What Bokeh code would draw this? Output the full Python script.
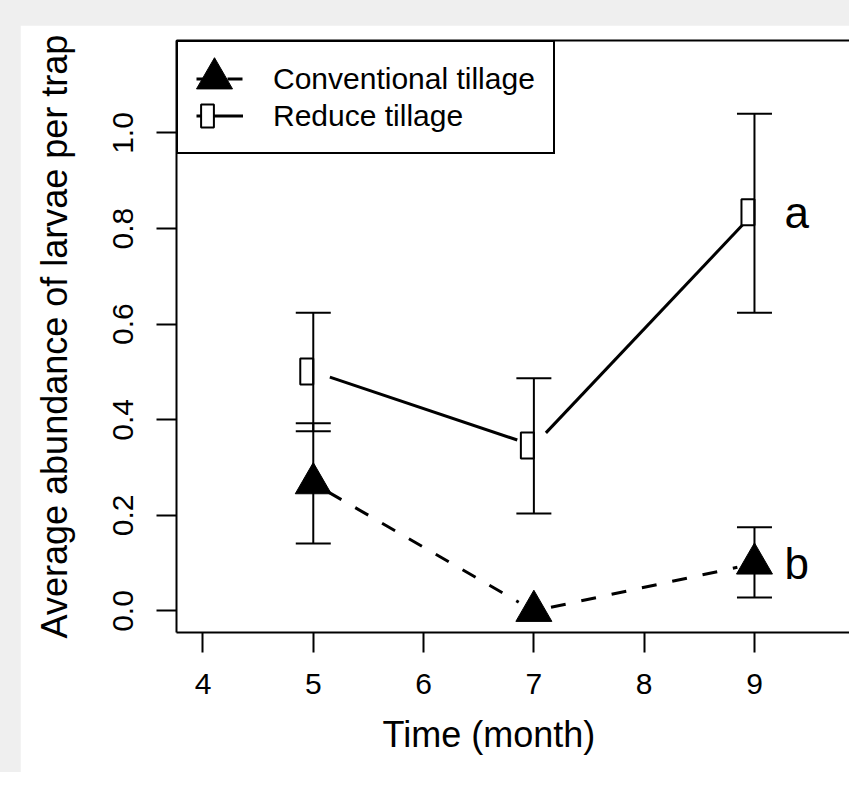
import math
from bokeh.plotting import figure
from bokeh.models import (ColumnDataSource, Whisker, TeeHead, FixedTicker, LinearAxis,
                          Legend, LegendItem, Title, Range1d, Spacer)
from bokeh.layouts import column, row
from bokeh.embed import file_html
from bokeh.resources import INLINE
from bokeh.core.properties import value

# ---------------- data ----------------
months = [5, 7, 9]
conv_mean = [0.267, 0.0, 0.099]
conv_lower = [0.141, 0.0, 0.028]
conv_upper = [0.393, 0.0, 0.175]
red_mean = [0.501, 0.346, 0.834]
red_lower = [0.376, 0.204, 0.624]
red_upper = [0.624, 0.487, 1.040]
series_names = ["Conventional tillage", "Reduce tillage"]
sig_letters = ["a", "b"]          # reduce @ month 9, conventional @ month 9
x_ticks = [4, 5, 6, 7, 8, 9, 10]
x_tick_labels = ["4", "5", "6", "7", "8", "9", "10"]
y_ticks = [0.0, 0.2, 0.4, 0.6, 0.8, 1.0]
y_tick_labels = ["0.0", "0.2", "0.4", "0.6", "0.8", "1.0"]
x_title = "Time (month)"
y_title = "Average abundance of larvae per trap"

# ---------------- layout constants ----------------
FONT = "Liberation Sans"
PAD_L, PAD_T = 20, 25
W, H = 829, 747
BL, BR, BT, BB = 156, 0, 15, 140
FW, FH = W - BL - BR, H - BT - BB
PX_PER_X = 110.3
PX_PER_Y = 478.0
X0 = 3.76
X1 = X0 + FW / PX_PER_X
Y0 = -0.045
Y1 = Y0 + FH / PX_PER_Y

p = figure(width=W, height=H, x_range=Range1d(X0, X1), y_range=Range1d(Y0, Y1),
           output_backend="svg", toolbar_location=None,
           min_border_left=BL, min_border_right=BR, min_border_top=BT, min_border_bottom=BB)
p.grid.visible = False
p.outline_line_color = None
p.background_fill_color = "white"
p.border_fill_color = "white"

# axes
xa = p.xaxis[0]
xa.ticker = FixedTicker(ticks=x_ticks)
xa.major_label_overrides = {t: l for t, l in zip(x_ticks, x_tick_labels)}
ya = p.yaxis[0]
ya.ticker = FixedTicker(ticks=y_ticks)
ya.major_label_overrides = {t: l for t, l in zip(y_ticks, y_tick_labels)}
for ax in (xa, ya):
    ax.major_tick_out = 20
    ax.major_tick_in = 0
    ax.minor_tick_out = 0
    ax.minor_tick_in = 0
    ax.major_tick_line_width = 2
    ax.major_tick_line_color = "black"
    ax.axis_line_width = 2
    ax.axis_line_color = "black"
    ax.major_label_text_font = FONT
    ax.major_label_text_font_size = "30px"
    ax.major_label_text_color = "black"
xa.major_label_standoff = 21
ya.major_label_standoff = 23
ya.major_label_orientation = "vertical"
ya.axis_label = y_title
ya.axis_label_text_font = FONT
ya.axis_label_text_font_size = "36px"
ya.axis_label_text_font_style = "normal"
ya.axis_label_text_color = "black"
ya.axis_label_standoff = 36

top = LinearAxis(ticker=FixedTicker(ticks=[]), major_tick_out=0, major_tick_in=0,
                 minor_tick_out=0, minor_tick_in=0, axis_line_width=2, axis_line_color="black")
p.add_layout(top, "above")

# x title (left-offset like the original)
p.add_layout(Title(text=x_title, align="left", offset=206, standoff=31,
                   text_font=FONT, text_font_size="36px", text_font_style="normal",
                   text_color="black"), "below")

# ---------------- lines with gaps around points (type "b") ----------------
def gapped(xs, ys, gap=17.5):
    a0, b0, a1, b1 = [], [], [], []
    for i in range(len(xs) - 1):
        dx = (xs[i + 1] - xs[i]) * PX_PER_X
        dy = (ys[i + 1] - ys[i]) * PX_PER_Y
        L = math.hypot(dx, dy)
        t0, t1 = gap / L, 1 - gap / L
        a0.append(xs[i] + t0 * (xs[i + 1] - xs[i]))
        b0.append(ys[i] + t0 * (ys[i + 1] - ys[i]))
        a1.append(xs[i] + t1 * (xs[i + 1] - xs[i]))
        b1.append(ys[i] + t1 * (ys[i + 1] - ys[i]))
    return dict(x0=a0, y0=b0, x1=a1, y1=b1)

conv_seg = ColumnDataSource(gapped(months, conv_mean))
red_seg = ColumnDataSource(gapped(months, red_mean))
conv_line = p.segment("x0", "y0", "x1", "y1", source=conv_seg, line_color="black",
                      line_width=3, line_dash="15 16")
red_line = p.segment("x0", "y0", "x1", "y1", source=red_seg, line_color="black", line_width=3)

# ---------------- error bars ----------------
def whisk(lower, upper):
    keep = [i for i in range(len(months)) if upper[i] > lower[i]]
    src = ColumnDataSource(dict(x=[months[i] for i in keep],
                                lower=[lower[i] for i in keep],
                                upper=[upper[i] for i in keep]))
    w = Whisker(base="x", lower="lower", upper="upper", source=src, dimension="height",
                line_color="black", line_width=2, level="glyph",
                upper_head=TeeHead(size=35, line_width=2, line_color="black"),
                lower_head=TeeHead(size=35, line_width=2, line_color="black"))
    p.add_layout(w)

whisk(red_lower, red_upper)
whisk(conv_lower, conv_upper)

# ---------------- markers ----------------
tri = p.scatter(months, conv_mean, marker="triangle", size=36, fill_color="black",
                line_color="black", line_width=1)
red_x = [m - 6.5 / PX_PER_X for m in months]
sq = p.rect(red_x, red_mean, width=13, height=26, width_units="screen", height_units="screen",
            fill_color="white", line_color="black", line_width=2)

# significance letters
p.text(x=[months[2], months[2]], y=[red_mean[2], conv_mean[2]], text=sig_letters,
       x_offset=30, text_align="left", text_baseline="middle",
       text_font=value(FONT), text_font_size="44px", text_color="black")

# ---------------- legend ----------------
legend = Legend(items=[LegendItem(label=series_names[0], renderers=[conv_line]),
                       LegendItem(label=series_names[1], renderers=[red_line])],
                location="top_left", margin=0, padding=18, spacing=0,
                glyph_width=47, glyph_height=37, label_height=37,
                label_standoff=30, label_width=262,
                label_text_font=FONT, label_text_font_size="30px", label_text_color="black",
                border_line_color="black", border_line_width=2, border_line_alpha=1.0,
                background_fill_color="white", background_fill_alpha=1.0)
p.add_layout(legend)

# symbol overlays for the legend (full-size markers)
def symbol_legend(renderer, gw, gh, cx, cy):
    # cx, cy: wanted centre of the symbol, in px from the frame's top-left corner
    lg = Legend(items=[LegendItem(label=" ", renderers=[renderer])],
                location=(cx - gw / 2, FH - (cy - gh / 2) - gh), margin=0, padding=0,
                spacing=0, glyph_width=gw, glyph_height=gh, label_height=0,
                label_standoff=0, label_width=0, label_text_font_size="1px",
                border_line_color=None, background_fill_alpha=0.0)
    p.add_layout(lg)

symbol_legend(tri, 90, 90, 37.5, 37.6)
symbol_legend(sq, 16, 29, 30.5, 75.5)

layout = column(Spacer(width=W + PAD_L, height=PAD_T),
                row(Spacer(width=PAD_L, height=H), p),
                styles={"background-color": "#efefef"})

open("out.html", "w").write(file_html(layout, INLINE))
